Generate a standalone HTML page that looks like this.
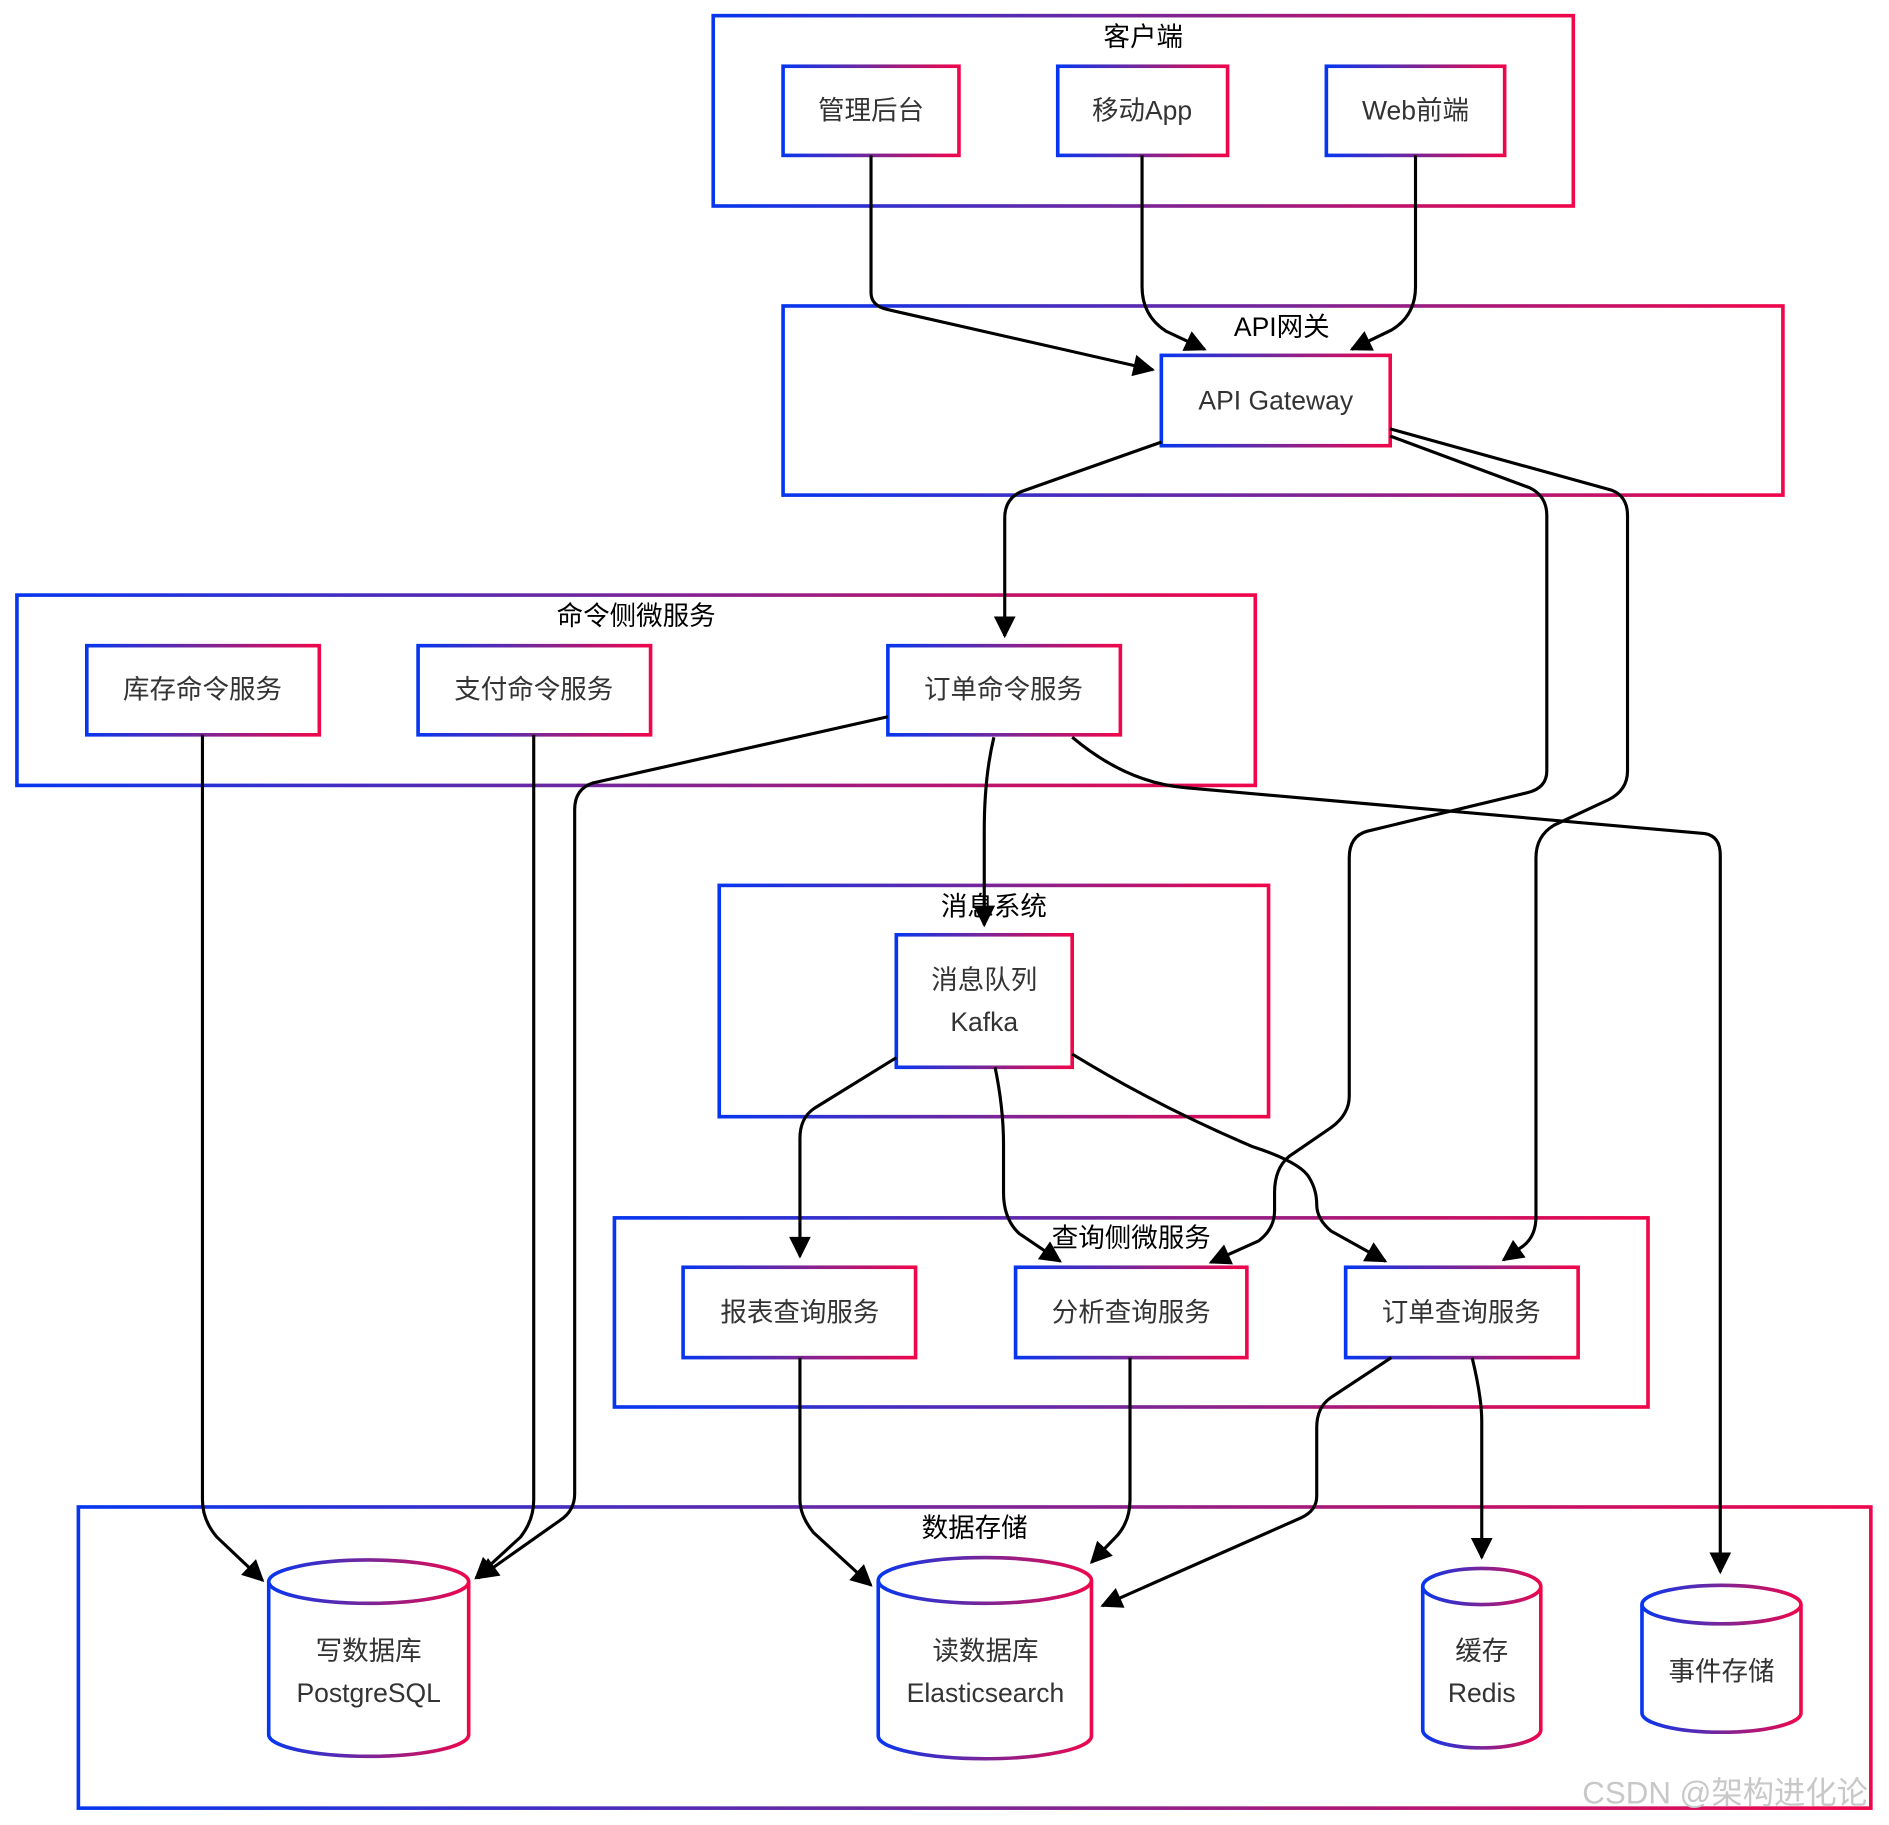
<!DOCTYPE html>
<html><head><meta charset="utf-8"><style>
html,body{margin:0;padding:0;background:#fff;}
svg{display:block}
text{font-family:"Liberation Sans","Noto Sans CJK SC",sans-serif;}
.t{font-size:22px;fill:#000;text-anchor:middle}
.n{font-size:22px;fill:#333;text-anchor:middle}
.e{fill:none;stroke:#000;stroke-width:2.6;marker-end:url(#ar)}
.b{fill:#fff;stroke:url(#g);stroke-width:3}
.c{fill:none;stroke:url(#g);stroke-width:3}
</style></head><body>
<svg width="1889" height="1825" viewBox="0 0 1568 1515" xmlns="http://www.w3.org/2000/svg">
<defs>
<linearGradient id="g" x1="0" y1="0" x2="1" y2="0"><stop offset="0" stop-color="#0636ef"/><stop offset="0.5" stop-color="#7a2597"/><stop offset="1" stop-color="#f0064a"/></linearGradient>
<marker id="ar" viewBox="0 0 10 10" refX="9" refY="5" markerWidth="20" markerHeight="18" markerUnits="userSpaceOnUse" orient="auto"><path d="M0,0 L10,5 L0,10 z" fill="#000"/></marker>
</defs>
<!-- clusters -->
<rect class="c" x="592" y="13" width="714" height="158"/><text class="t" x="949" y="38">客户端</text>
<rect class="c" x="650" y="254" width="830" height="157"/><text class="t" x="1064" y="279">API网关</text>
<rect class="c" x="14" y="494" width="1028" height="158"/><text class="t" x="528" y="519">命令侧微服务</text>
<rect class="c" x="597" y="735" width="456" height="192"/><text class="t" x="825" y="760">消息系统</text>
<rect class="c" x="510" y="1011" width="858" height="157"/><text class="t" x="939" y="1035">查询侧微服务</text>
<rect class="c" x="65" y="1251" width="1488" height="250"/><text class="t" x="809" y="1276">数据存储</text>
<!-- nodes -->
<rect class="b" x="650" y="55" width="146" height="74"/><text class="n" x="723" y="99">管理后台</text>
<rect class="b" x="878" y="55" width="141" height="74"/><text class="n" x="948" y="99">移动App</text>
<rect class="b" x="1101" y="55" width="148" height="74"/><text class="n" x="1175" y="99">Web前端</text>
<rect class="b" x="964" y="295" width="190" height="75"/><text class="n" x="1059" y="340">API Gateway</text>
<rect class="b" x="72" y="536" width="193" height="74"/><text class="n" x="168" y="580">库存命令服务</text>
<rect class="b" x="347" y="536" width="193" height="74"/><text class="n" x="443" y="580">支付命令服务</text>
<rect class="b" x="737" y="536" width="193" height="74"/><text class="n" x="833" y="580">订单命令服务</text>
<rect class="b" x="744" y="776" width="146" height="110"/><text class="n" x="817" y="821">消息队列</text><text class="n" x="817" y="856">Kafka</text>
<rect class="b" x="567" y="1052" width="193" height="75"/><text class="n" x="664" y="1097">报表查询服务</text>
<rect class="b" x="843" y="1052" width="192" height="75"/><text class="n" x="939" y="1097">分析查询服务</text>
<rect class="b" x="1117" y="1052" width="193" height="75"/><text class="n" x="1213" y="1097">订单查询服务</text>
<!-- cylinders -->
<path class="b" d="M223,1313 A83,18 0 0 1 389,1313 L389,1440 A83,18 0 0 1 223,1440 Z"/><path class="c" d="M223,1313 A83,18 0 0 0 389,1313"/>
<text class="n" x="306" y="1378">写数据库</text><text class="n" x="306" y="1413">PostgreSQL</text>
<path class="b" d="M729,1312 A88.5,19 0 0 1 906,1312 L906,1441 A88.5,19 0 0 1 729,1441 Z"/><path class="c" d="M729,1312 A88.5,19 0 0 0 906,1312"/>
<text class="n" x="818" y="1378">读数据库</text><text class="n" x="818" y="1413">Elasticsearch</text>
<path class="b" d="M1181,1317 A49,15 0 0 1 1279,1317 L1279,1436 A49,15 0 0 1 1181,1436 Z"/><path class="c" d="M1181,1317 A49,15 0 0 0 1279,1317"/>
<text class="n" x="1230" y="1378">缓存</text><text class="n" x="1230" y="1413">Redis</text>
<path class="b" d="M1363,1332 A66,16 0 0 1 1495,1332 L1495,1422 A66,16 0 0 1 1363,1422 Z"/><path class="c" d="M1363,1332 A66,16 0 0 0 1495,1332"/>
<text class="n" x="1429" y="1395">事件存储</text>
<!-- edges -->
<path class="e" d="M723,129 L723,243 Q723,254 737,257 L957,307"/>
<path class="e" d="M948,129 L948,238 Q948,262 968,275 L1000,290"/>
<path class="e" d="M1175,129 L1175,238 Q1175,262 1155,274 L1122,290"/>
<path class="e" d="M964,367 L848,408 Q834,414 834,430 L834,528"/>
<path class="e" d="M1154,362 L1270,405 Q1284,412 1284,428 L1284,640 Q1284,654 1268,658 L1135,690 Q1120,694 1120,712 L1120,910 Q1120,925 1105,936 L1070,960 Q1058,970 1058,990 L1058,1005 Q1058,1020 1045,1030 L1005,1048"/>
<path class="e" d="M1154,356 L1338,407 Q1351,412 1351,428 L1351,640 Q1351,656 1335,664 L1290,685 Q1275,694 1275,712 L1275,1010 Q1275,1028 1262,1036 L1248,1046"/>
<path class="e" d="M737,595 L492,650 Q477,655 477,672 L477,1240 Q477,1254 465,1262 L397,1310"/>
<path class="e" d="M825,612 Q817,645 817,690 L817,768"/>
<path class="e" d="M890,612 Q935,650 985,654 L1415,692 Q1428,694 1428,710 L1428,1305"/>
<path class="e" d="M168,610 L168,1245 Q168,1262 180,1276 L218,1312"/>
<path class="e" d="M443,610 L443,1245 Q443,1262 432,1276 L395,1310"/>
<path class="e" d="M744,878 L676,920 Q664,928 664,945 L664,1043"/>
<path class="e" d="M826,886 Q833,920 833,950 L833,990 Q833,1012 846,1024 L880,1047"/>
<path class="e" d="M890,875 Q960,918 1040,952 Q1080,965 1087,978 Q1093,988 1093,1000 Q1093,1012 1105,1022 L1150,1047"/>
<path class="e" d="M664,1127 L664,1245 Q664,1258 675,1272 L723,1316"/>
<path class="e" d="M938,1127 L938,1245 Q938,1262 928,1274 L906,1297"/>
<path class="e" d="M1155,1127 L1105,1160 Q1093,1168 1093,1185 L1093,1242 Q1093,1254 1080,1260 L915,1333"/>
<path class="e" d="M1222,1127 Q1230,1160 1230,1180 L1230,1293"/>
<text x="1432" y="1497" style="font-size:26px;fill:#c8c8c8;text-anchor:middle">CSDN @架构进化论</text>
</svg>
</body></html>
